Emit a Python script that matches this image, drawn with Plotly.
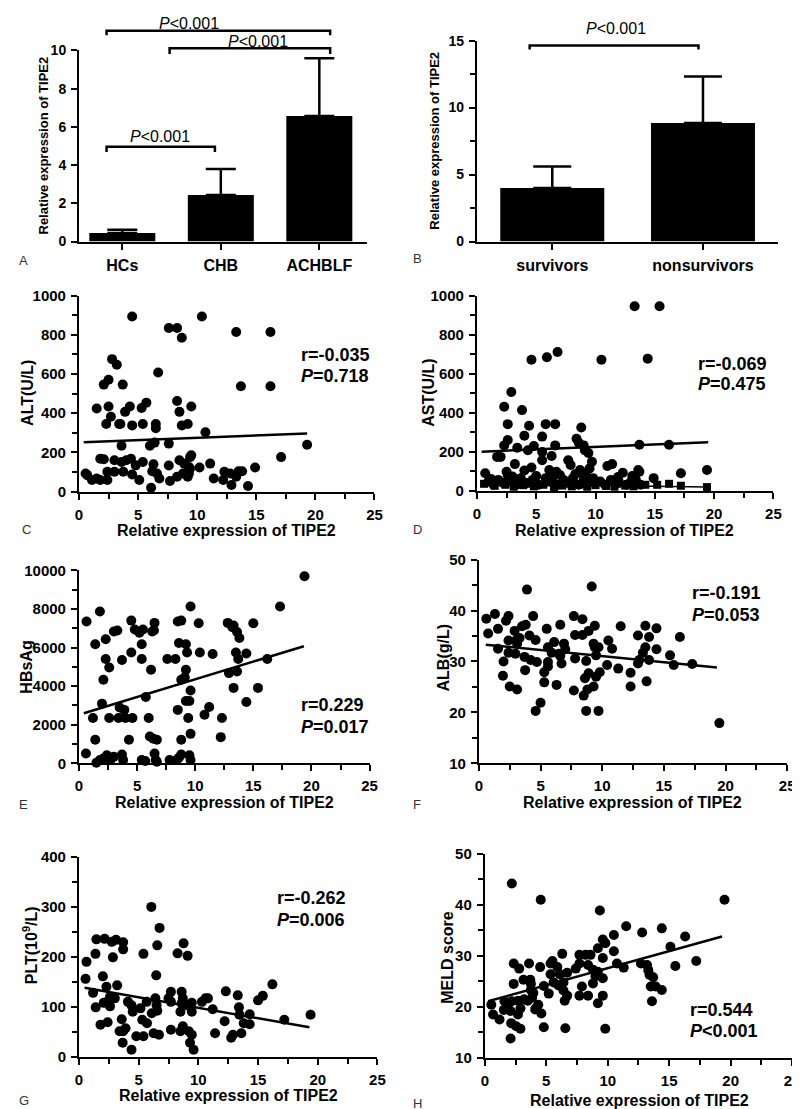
import plotly.graph_objects as go

W, H = 800, 1109
FONT = "Liberation Sans, Arial, sans-serif"

# ---------------- data ----------------
a_groups = ["HCs", "CHB", "ACHBLF"]
a_means = [0.45, 2.43, 6.57]
a_err = [0.17, 1.36, 3.02]

b_groups = ["survivors", "nonsurvivors"]
b_means = [4.0, 8.85]
b_err = [1.6, 3.47]

c_points = [(0.56, 92), (0.7, 84), (4.5, 894), (10.4, 894), (7.6, 835), (8.3, 835), (8.7, 785), (13.3, 815),
            (16.2, 815), (2.8, 676), (3.2, 647), (6.7, 608), (13.7, 538), (16.2, 538), (3.7, 546), (2.1, 546),
            (2.5, 571), (1.5, 424), (2.5, 434), (3.9, 407), (4.3, 434), (5.3, 427), (5.7, 454), (8.3, 462),
            (8.5, 407), (9.5, 434), (2.3, 345), (2.7, 382), (3.4, 345), (3.5, 345), (4.5, 338), (5.4, 345),
            (6.5, 345), (6.5, 323), (8.7, 338), (9.2, 345), (10.7, 303), (3.6, 234), (6.0, 234), (6.4, 250),
            (7.6, 245), (19.3, 239), (17.1, 176), (1.8, 168), (2.1, 165), (3.0, 160), (3.6, 151), (4.0, 160),
            (4.4, 168), (4.8, 134), (5.4, 151), (6.3, 139), (7.6, 133), (8.5, 160), (8.9, 143), (9.4, 176),
            (9.5, 185), (9.3, 126), (11.1, 143), (10.2, 123), (14.9, 123), (2.4, 101), (3.0, 101), (3.75, 101),
            (4.5, 87), (5.1, 59), (6.2, 104), (6.6, 92), (6.8, 67), (7.7, 54), (8.3, 76), (8.8, 92), (9.2, 76),
            (9.4, 118), (9.3, 92), (11.4, 67), (12.2, 59), (12.3, 101), (12.8, 92), (12.9, 34), (13.5, 104),
            (13.8, 104), (13.3, 76), (14.3, 29), (6.1, 20), (1.1, 59), (1.5, 67), (1.8, 59), (2.4, 59)]
c_fit_x = [0.4, 19.3]
c_fit_y = [252, 297]

d_circles = [(13.3, 946), (15.4, 946), (4.6, 671), (5.9, 684), (6.8, 711), (10.5, 671), (14.4, 677),
             (2.3, 430), (2.9, 506), (3.8, 413), (2.6, 341), (4.4, 333), (5.8, 341), (6.6, 341), (8.8, 324),
             (2.6, 260), (2.3, 232), (4.0, 282), (5.5, 277), (8.4, 266), (8.6, 244), (3.4, 220), (4.8, 229),
             (4.3, 207), (6.6, 232), (9.0, 232), (9.1, 207), (9.4, 193), (13.7, 235), (16.2, 235), (1.7, 173),
             (2.0, 173), (5.5, 198), (5.5, 156), (6.3, 178), (7.7, 156), (7.9, 131), (9.7, 148), (11.0, 126),
             (11.4, 136), (3.2, 136), (4.0, 103), (4.6, 119), (2.5, 97), (6.1, 106), (6.7, 97), (8.7, 106),
             (9.5, 114), (12.3, 92), (13.6, 106), (13.7, 97), (17.2, 89), (19.4, 106), (0.7, 89),
             (0.97, 47), (1.4, 30), (1.8, 55), (2.2, 39), (2.9, 47), (3.3, 30), (3.7, 64), (4.3, 39), (4.7, 55),
             (5.2, 30), (5.8, 64), (6.2, 47), (6.8, 30), (7.3, 55), (7.7, 39), (8.1, 64), (8.6, 30), (9.0, 55),
             (9.4, 39), (9.8, 64), (10.4, 47), (10.8, 30), (11.3, 55), (12.0, 39), (12.6, 30), (13.0, 47),
             (13.4, 55), (13.8, 30), (14.9, 64), (2.6, 80), (5.0, 75), (7.0, 80), (8.3, 85), (9.2, 78),
             (3.0, 72), (11.9, 70), (13.1, 75), (8.9, 90), (1.2, 60), (6.4, 70)]
d_squares = [(0.6, 35), (1.5, 25), (2.4, 30), (3.1, 20), (3.9, 28), (4.8, 22), (5.6, 30), (6.5, 18),
             (7.2, 26), (8.0, 22), (8.7, 32), (9.3, 20), (10.0, 28), (10.9, 24), (11.6, 20), (12.5, 26),
             (13.2, 22), (14.2, 30), (15.2, 30), (16.2, 35), (17.2, 25), (19.4, 18), (2.0, 45), (4.2, 40),
             (6.0, 42), (7.8, 38), (9.6, 44), (12.0, 40)]
d_fit_x = [0.4, 19.5]
d_fit_y = [200, 248]
d_fit2_x = [0.5, 19.4]
d_fit2_y = [35, 18]

e_points = [(19.4, 9694), (17.3, 8129), (9.6, 8129), (1.8, 7874), (0.65, 7347), (4.5, 7398), (8.5, 7347),
            (8.8, 7398), (10.3, 7262), (12.8, 7279), (15.0, 7262), (13.2, 7058), (13.3, 7143), (3.3, 6888),
            (3.0, 6837), (4.8, 6939), (5.2, 6769), (5.5, 6939), (6.5, 7279), (6.3, 6837), (6.45, 6888),
            (13.6, 6803), (13.8, 6497), (2.3, 6429), (1.4, 6173), (5.4, 6173), (8.6, 6241), (9.2, 6173),
            (4.5, 5748), (9.3, 5748), (10.4, 5748), (11.5, 5663), (13.5, 5748), (14.4, 5697), (2.3, 5408),
            (3.7, 5357), (5.4, 5408), (7.6, 5408), (8.3, 5408), (13.7, 5408), (16.2, 5408), (2.6, 4966),
            (6.2, 4847), (9.2, 4847), (2.1, 4337), (8.8, 4337), (9.1, 4456), (12.9, 4677), (13.6, 4762),
            (13.3, 3912), (15.4, 3912), (9.6, 3776), (5.75, 3435), (1.98, 3095), (8.5, 2772), (9.2, 3231),
            (9.5, 3231), (11.2, 2925), (10.8, 2517), (14.4, 3180), (3.5, 2891), (3.9, 2772), (1.2, 2347),
            (2.6, 2347), (3.4, 2347), (4.0, 2347), (4.6, 2347), (6.0, 2347), (9.4, 2347), (12.3, 2347),
            (1.4, 1224), (4.3, 1224), (6.1, 1394), (6.4, 1275), (6.7, 1224), (8.8, 1224), (9.6, 1530),
            (12.2, 1360), (0.6, 510), (1.5, 34), (2.1, 255), (2.4, 425), (2.7, 170), (3.0, 340), (3.7, 459),
            (3.8, 170), (5.4, 170), (5.7, 119), (6.5, 510), (6.6, 170), (7.8, 170), (8.4, 170), (8.6, 289),
            (8.8, 459), (9.5, 425), (9.6, 170), (6.7, 85), (1.8, 170)]
e_fit_x = [0.42, 19.35]
e_fit_y = [2600, 6070]

f_points = [(0.6, 38.4), (0.75, 35.5), (1.3, 39.3), (1.55, 36.4), (1.55, 32.5), (2.0, 30.0), (1.95, 27.2),
            (2.2, 38.0), (2.4, 38.9), (2.4, 34.1), (2.4, 31.7), (2.5, 25.1), (2.9, 36.0), (3.0, 34.1),
            (2.96, 31.5), (3.1, 24.5), (3.3, 34.6), (3.5, 36.9), (3.8, 37.2), (3.9, 44.1), (3.7, 30.9),
            (3.75, 28.3), (4.1, 35.1), (4.2, 30.3), (4.4, 38.9), (4.6, 34.2), (4.7, 29.9), (4.6, 20.3),
            (5.0, 21.9), (5.3, 27.9), (5.3, 25.9), (5.5, 36.4), (5.6, 32.8), (5.6, 29.9), (5.6, 29.0),
            (5.9, 31.7), (6.1, 33.8), (6.3, 25.4), (6.5, 31.5), (6.6, 31.1), (6.6, 37.2), (6.7, 29.6),
            (6.9, 33.5), (7.0, 32.4), (7.7, 38.9), (7.8, 35.2), (7.7, 24.3), (7.8, 30.6), (8.4, 38.3),
            (8.4, 35.2), (8.5, 23.3), (8.6, 26.7), (8.7, 30.1), (8.8, 24.5), (8.7, 20.3), (8.9, 36.0),
            (8.9, 27.7), (9.15, 44.7), (9.3, 33.5), (9.4, 37.0), (9.3, 25.1), (9.4, 32.8), (9.5, 31.2),
            (9.5, 27.0), (9.7, 32.8), (9.8, 27.9), (9.7, 20.3), (10.5, 34.1), (10.4, 29.3), (10.8, 32.5),
            (11.3, 28.6), (11.5, 36.9), (12.3, 27.8), (12.3, 25.1), (12.9, 29.6), (12.9, 35.1), (13.0, 30.3),
            (13.3, 31.7), (13.5, 37.0), (13.5, 32.8), (13.6, 26.1), (13.8, 34.8), (13.8, 30.3), (14.4, 36.5),
            (14.4, 32.4), (15.5, 31.2), (15.8, 29.3), (16.3, 34.8), (17.3, 29.5), (19.5, 17.9), (3.1, 33.5)]
f_fit_x = [0.56, 19.3]
f_fit_y = [33.3, 28.8]

g_points = [(6.06, 300), (6.75, 258), (6.56, 223), (0.63, 190), (1.46, 235), (2.15, 236), (2.75, 230),
            (3.1, 234), (3.7, 229), (3.7, 215), (1.38, 206), (2.84, 199), (5.4, 206), (8.26, 207), (8.76, 227),
            (9.1, 202), (0.55, 156), (2.0, 161), (6.47, 163), (2.3, 140), (3.2, 143), (1.18, 128), (2.6, 120),
            (3.0, 117), (1.4, 99), (1.8, 64), (2.4, 69), (2.3, 109), (2.6, 101), (2.07, 108), (3.58, 75),
            (3.4, 51), (3.7, 51), (3.9, 57), (3.66, 28), (4.4, 14), (4.1, 110), (4.4, 103), (4.5, 90),
            (4.8, 41), (5.15, 97), (5.4, 41), (5.3, 74), (5.7, 67), (5.67, 110), (6.1, 87), (6.4, 117),
            (6.5, 103), (6.56, 92), (6.25, 47), (6.7, 44), (7.7, 54), (7.7, 130), (7.5, 117), (7.7, 110),
            (8.6, 130), (8.7, 117), (8.6, 107), (8.5, 90), (8.7, 61), (8.5, 51), (9.1, 103), (9.2, 51),
            (9.45, 108), (9.45, 90), (9.45, 44), (9.3, 28), (9.6, 14), (10.3, 110), (10.6, 117), (10.8, 117),
            (11.2, 95), (11.4, 47), (12.3, 131), (12.2, 71), (12.75, 38), (12.9, 44), (13.3, 123), (13.4, 99),
            (13.45, 84), (13.6, 47), (13.8, 67), (14.3, 85), (14.3, 65), (15.0, 113), (15.4, 122), (16.2, 145),
            (17.2, 74), (19.4, 84)]
g_fit_x = [0.47, 19.3]
g_fit_y = [138, 59]

h_points = [(2.2, 44.2), (4.55, 41.0), (9.36, 38.9), (19.5, 41.0), (11.5, 35.8), (12.8, 34.6), (14.4, 35.4),
            (16.3, 33.8), (15.1, 31.8), (15.5, 28.0), (17.2, 29.0), (10.5, 34.1), (9.6, 33.2), (9.8, 32.5),
            (9.2, 31.5), (8.2, 30.2), (8.6, 30.2), (7.7, 30.2), (6.3, 30.4), (10.5, 30.9), (9.6, 29.6),
            (10.75, 28.5), (11.3, 27.7), (5.5, 29.0), (5.35, 28.5), (5.9, 27.8), (6.7, 26.7), (7.4, 27.5),
            (7.7, 28.5), (8.4, 28.2), (8.8, 27.3), (9.2, 26.9), (9.0, 26.0), (9.6, 25.6), (8.8, 24.6),
            (7.9, 24.0), (7.7, 22.2), (8.4, 22.2), (9.2, 20.7), (9.6, 22.2), (9.8, 15.7), (12.7, 28.5),
            (13.2, 28.2), (13.3, 27.2), (13.4, 26.3), (13.7, 25.8), (13.5, 24.0), (13.9, 24.0), (13.6, 21.1),
            (14.4, 23.3), (6.1, 26.4), (6.4, 24.8), (6.4, 23.2), (6.7, 22.2), (6.5, 21.2), (6.55, 15.8),
            (4.8, 16.0), (6.0, 24.2), (5.35, 26.4), (5.6, 24.8), (4.8, 24.1), (5.2, 22.6), (4.5, 27.8),
            (3.6, 28.5), (2.8, 27.5), (2.35, 28.5), (2.35, 24.5), (3.7, 25.3), (3.15, 25.3), (3.75, 24.5),
            (3.75, 23.3), (3.95, 22.7), (3.85, 21.8), (3.2, 21.5), (3.5, 21.2), (4.35, 20.4), (4.2, 19.8),
            (4.6, 18.7), (4.1, 19.5), (0.53, 20.4), (0.67, 18.5), (1.2, 17.5), (1.6, 21.1), (1.55, 19.4),
            (1.9, 20.6), (2.2, 21.1), (2.1, 19.2), (2.7, 18.5), (2.15, 16.8), (2.55, 16.2), (2.9, 15.7),
            (2.1, 13.8), (2.9, 19.7), (2.7, 21.2)]
h_fit_x = [0.27, 19.3]
h_fit_y = [21.1, 33.8]

stats = {
    "C": ("r=-0.035", "<i>P</i>=0.718"),
    "D": ("r=-0.069", "<i>P</i>=0.475"),
    "E": ("r=0.229", "<i>P</i>=0.017"),
    "F": ("r=-0.191", "<i>P</i>=0.053"),
    "G": ("r=-0.262", "<i>P</i>=0.006"),
    "H": ("r=0.544", "<i>P</i>&lt;0.001"),
}
y_titles = {
    "A": "Relative expression of TIPE2", "B": "Relative expression of TIPE2",
    "C": "ALT(U/L)", "D": "AST(U/L)", "E": "HBsAg", "F": "ALB(g/L)",
    "G": "PLT(10<sup>9</sup>/L)", "H": "MELD score",
}
x_title = "Relative expression of TIPE2"

# ---------------- layout geometry (pixels) ----------------
# panel: (x_left, x_right, y_top, y_bottom)
geom = {
    "A": (68, 360, 34, 228), "B": (472, 778, 24, 228),
    "C": (68, 368, 283, 482), "D": (472, 773, 283, 481),
    "E": (68, 363, 562, 758), "F": (474, 787, 551, 758),
    "G": (68, 371, 853, 1056), "H": (480, 792, 850, 1057),
}
ranges = {
    "A": ((-0.44, 2.48), (0, 10)), "B": ((-0.5, 1.5), (0, 15)),
    "C": ((0, 25), (0, 1000)), "D": ((0, 25), (0, 1000)),
    "E": ((0, 25), (0, 10000)), "F": ((0, 25), (10, 50)),
    "G": ((0, 25), (0, 400)), "H": ((0, 25), (10, 50)),
}
ydt = {"A": (2, None), "B": (5, 2.5), "C": (200, 100), "D": (200, 100), "E": (2000, 1000),
       "F": (10, 5), "G": (100, 50), "H": (10, 5)}
keys = list("ABCDEFGH")


def px(x):
    return x / W


def py(y):
    return 1 - y / H


def to_paper(k, xv, yv):
    x0, x1, yt, yb = geom[k]
    (xa, xb), (ya, yb_) = ranges[k]
    X = x0 + (xv - xa) / (xb - xa) * (x1 - x0)
    Y = yb - (yv - ya) / (yb_ - ya) * (yb - yt)
    return px(X), py(Y)


def tick_list(lo, hi, step):
    vals = []
    v = lo
    while v <= hi + 1e-9:
        vals.append(v)
        v += step
    return vals, ["<b>%g</b>" % v for v in vals]


def tfont(size):
    return dict(family=FONT, size=size, color="black", weight=700)


fig = go.Figure()
layout = dict(width=W, height=H, margin=dict(l=0, r=0, t=0, b=0), paper_bgcolor="white",
              plot_bgcolor="white", showlegend=False, shapes=[], annotations=[])

for i, k in enumerate(keys):
    n = "" if i == 0 else str(i + 1)
    x0, x1, yt, yb = geom[k]
    xr, yr = ranges[k]
    common = dict(showline=True, linecolor="black", linewidth=2, ticks="outside", ticklen=6, tickwidth=2,
                  tickcolor="black", showgrid=False, zeroline=False, ticklabelstandoff=2)
    xa = dict(domain=[px(x0), px(x1)], range=list(xr), anchor="y" + n, **common)
    yv, yt_txt = tick_list(yr[0], yr[1], ydt[k][0])
    ya = dict(domain=[py(yb), py(yt)], range=list(yr), anchor="x" + n, tickmode="array", tickvals=yv,
              ticktext=yt_txt, tickfont=tfont(15), **common)
    if ydt[k][1]:
        ya["minor"] = dict(tickmode="linear", tick0=yr[0], dtick=ydt[k][1], ticks="outside", ticklen=5,
                           tickwidth=2, tickcolor="black", showgrid=False)
    if k in "AB":
        ya["tickfont"] = tfont(14)
        xa["tickfont"] = tfont(16)
        xa["tickmode"] = "array"
        grp = a_groups if k == "A" else b_groups
        xa["tickvals"] = list(range(len(grp)))
        xa["ticktext"] = ["<b>%s</b>" % g for g in grp]
    else:
        xv, xt_txt = tick_list(xr[0], xr[1], 5)
        xa["tickmode"] = "array"
        xa["tickvals"] = xv
        xa["ticktext"] = xt_txt
        xa["tickfont"] = tfont(15)
        xa["minor"] = dict(tickmode="linear", tick0=0, dtick=2.5, ticks="outside", ticklen=5, tickwidth=2,
                           tickcolor="black", showgrid=False)
    layout["xaxis" + n] = xa
    layout["yaxis" + n] = ya

# ---------------- bar panels ----------------
fig.add_trace(go.Bar(x=list(range(len(a_groups))), y=a_means, width=0.67,
                     marker=dict(color="black", line=dict(width=0)),
                     error_y=dict(type="data", array=a_err, arrayminus=[0] * len(a_err), symmetric=False,
                                  color="black", thickness=2.5, width=15),
                     xaxis="x", yaxis="y"))
fig.add_trace(go.Bar(x=list(range(len(b_groups))), y=b_means, width=0.69,
                     marker=dict(color="black", line=dict(width=0)),
                     error_y=dict(type="data", array=b_err, arrayminus=[0] * len(b_err), symmetric=False,
                                  color="black", thickness=2.5, width=19),
                     xaxis="x2", yaxis="y2"))


def bracket(k, xl, xr, ytop, ybot, label, tx, ty):
    p1 = to_paper(k, xl, ybot)
    p2 = to_paper(k, xl, ytop)
    p3 = to_paper(k, xr, ytop)
    p4 = to_paper(k, xr, ybot)
    path = f"M {p1[0]} {p1[1]} L {p2[0]} {p2[1]} L {p3[0]} {p3[1]} L {p4[0]} {p4[1]}"
    layout["shapes"].append(dict(type="path", path=path, xref="paper", yref="paper",
                                 line=dict(color="black", width=2.5)))
    layout["annotations"].append(dict(text=label, x=px(tx), y=py(ty), xref="paper", yref="paper",
                                      showarrow=False, xanchor="center", yanchor="middle",
                                      font=dict(family=FONT, size=16, color="black")))


bracket("A", -0.16, 2.11, 11.03, 10.8, "<i>P</i>&lt;0.001", 180, 7)
bracket("A", 0.48, 2.11, 10.12, 9.81, "<i>P</i>&lt;0.001", 250, 25)
bracket("A", -0.16, 0.94, 4.96, 4.68, "<i>P</i>&lt;0.001", 150, 121)
bracket("B", -0.15, 0.97, 14.63, 14.34, "<i>P</i>&lt;0.001", 613, 12)

# ---------------- scatter panels ----------------
scatter_sets = {
    "C": (c_points, c_fit_x, c_fit_y), "D": (d_circles, d_fit_x, d_fit_y),
    "E": (e_points, e_fit_x, e_fit_y), "F": (f_points, f_fit_x, f_fit_y),
    "G": (g_points, g_fit_x, g_fit_y), "H": (h_points, h_fit_x, h_fit_y),
}
for k, (pts, fx, fy) in scatter_sets.items():
    i = keys.index(k)
    n = str(i + 1)
    xs = [p[0] for p in pts]
    ys = [p[1] for p in pts]
    fig.add_trace(go.Scatter(x=xs, y=ys, mode="markers", marker=dict(color="black", size=10, symbol="circle"),
                             xaxis="x" + n, yaxis="y" + n, cliponaxis=False))
    if k == "D":
        fig.add_trace(go.Scatter(x=[p[0] for p in d_squares], y=[p[1] for p in d_squares], mode="markers",
                                 marker=dict(color="black", size=8, symbol="square"),
                                 xaxis="x" + n, yaxis="y" + n, cliponaxis=False))
        fig.add_trace(go.Scatter(x=d_fit2_x, y=d_fit2_y, mode="lines", line=dict(color="black", width=1.5),
                                 xaxis="x" + n, yaxis="y" + n))
    fig.add_trace(go.Scatter(x=fx, y=fy, mode="lines", line=dict(color="black", width=2.5),
                             xaxis="x" + n, yaxis="y" + n))

# ---------------- text annotations ----------------
ytitle_pos = {"A": (32, 131, 13), "B": (428, 126, 13), "C": (15, 382, 16), "D": (422, 382, 16),
              "E": (15, 660, 16), "F": (438, 650, 16), "G": (18, 943, 16), "H": (442, 955, 16)}
for k, (x, y, s) in ytitle_pos.items():
    layout["annotations"].append(dict(text="<b>" + y_titles[k] + "</b>", x=px(x), y=py(y), xref="paper",
                                      yref="paper", showarrow=False, textangle=-90, xanchor="center",
                                      yanchor="middle", font=dict(family=FONT, size=s, color="black")))

xtitle_pos = {"C": (218, 522), "D": (622, 522), "E": (216, 798), "F": (630, 798),
              "G": (220, 1095), "H": (637, 1100)}
for k, (x, y) in xtitle_pos.items():
    layout["annotations"].append(dict(text="<b>" + x_title + "</b>", x=px(x), y=py(y), xref="paper",
                                      yref="paper", showarrow=False, xanchor="center", yanchor="middle",
                                      font=dict(family=FONT, size=16, color="black")))

stat_pos = {"C": (291, 343, 365), "D": (694, 352, 373), "E": (291, 699, 721), "F": (688, 585, 607),
            "G": (267, 895, 917), "H": (686, 1008, 1030)}
for k, (x, y1, y2) in stat_pos.items():
    r_txt, p_txt = stats[k]
    for t, y in ((r_txt, y1), (p_txt, y2)):
        layout["annotations"].append(dict(text="<b>" + t + "</b>", x=px(x), y=py(y), xref="paper",
                                          yref="paper", showarrow=False, xanchor="left", yanchor="middle",
                                          font=dict(family=FONT, size=18, color="black")))

letter_pos = {"A": (5, 247), "B": (405, 245), "C": (8, 520), "D": (405, 520), "E": (5, 800),
              "F": (405, 800), "G": (5, 1100), "H": (405, 1103)}
for k, (x, y) in letter_pos.items():
    layout["annotations"].append(dict(text=k, x=px(x), y=py(y), xref="paper", yref="paper",
                                      showarrow=False, xanchor="left", yanchor="middle",
                                      font=dict(family=FONT, size=13, color="#333333")))

fig.update_layout(**layout)
fig.write_html("out.html")
